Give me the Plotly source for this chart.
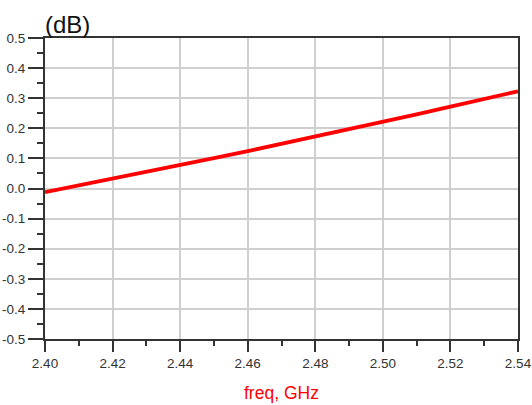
import plotly.graph_objects as go

freq = [2.40, 2.41, 2.42, 2.43, 2.44, 2.45, 2.46, 2.47, 2.48, 2.49, 2.50, 2.51, 2.52, 2.53, 2.54]
gain_db = [-0.012, 0.010, 0.033, 0.056, 0.079, 0.101, 0.124, 0.148, 0.172, 0.197, 0.222, 0.246, 0.272, 0.297, 0.323]

x_ticks = [2.40, 2.42, 2.44, 2.46, 2.48, 2.50, 2.52, 2.54]
x_labels = ["2.40", "2.42", "2.44", "2.46", "2.48", "2.50", "2.52", "2.54"]
y_ticks = [-0.5, -0.4, -0.3, -0.2, -0.1, 0.0, 0.1, 0.2, 0.3, 0.4, 0.5]
y_labels = ["-0.5", "-0.4", "-0.3", "-0.2", "-0.1", "0.0", "0.1", "0.2", "0.3", "0.4", "0.5"]

FONT = "Liberation Sans, Arial, sans-serif"

fig = go.Figure()
fig.add_trace(go.Scatter(x=freq, y=gain_db, mode="lines",
                         line=dict(color="#ff0000", width=3.8), showlegend=False))

axis_common = dict(
    showline=True, linecolor="#333333", linewidth=2, mirror=True,
    showgrid=True, gridcolor="#cfcfcf", gridwidth=1.5,
    ticks="outside", tickcolor="#333333", tickwidth=1.5,
    zeroline=False, automargin=False,
    tickfont=dict(family=FONT, size=13.5, color="#333333"),
)

fig.update_xaxes(**axis_common, range=[2.40, 2.54], tickmode="array",
                 tickvals=x_ticks, ticktext=x_labels, ticklen=11,
                 minor=dict(dtick=0.01, tick0=2.40, ticks="outside", ticklen=5,
                            tickcolor="#333333", tickwidth=1.5, showgrid=False))
fig.update_yaxes(**axis_common, range=[-0.5, 0.5], tickmode="array",
                 tickvals=y_ticks, ticktext=y_labels, ticklen=15,
                 minor=dict(dtick=0.05, tick0=0, ticks="outside", ticklen=6,
                            tickcolor="#333333", tickwidth=1.5, showgrid=False))

fig.add_annotation(text="(dB)", xref="paper", yref="paper", x=-0.004, y=1.0,
                   xanchor="left", yanchor="bottom", yshift=-2, showarrow=False,
                   font=dict(family=FONT, size=24, color="#111111"))
fig.add_annotation(text="freq, GHz", xref="paper", yref="paper", x=0.501, y=0.0,
                   xanchor="center", yanchor="middle", yshift=-54, showarrow=False,
                   font=dict(family=FONT, size=17.5, color="#ff0000"))

fig.update_layout(width=532, height=405, margin=dict(l=45, r=14, t=38, b=66, autoexpand=False),
                  plot_bgcolor="white", paper_bgcolor="white")

fig.write_html("out.html", config={"displayModeBar": False},
               post_script="document.body.style.margin='0';document.body.style.overflow='hidden';")
